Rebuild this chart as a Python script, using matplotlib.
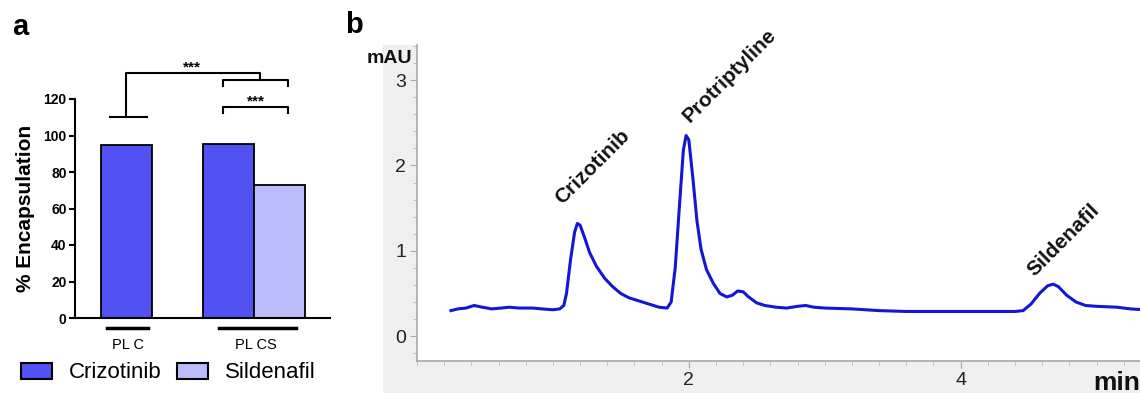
import matplotlib
matplotlib.use("Agg")
import matplotlib.pyplot as plt
from matplotlib.patches import Patch, Rectangle

plt.rcParams['font.family'] = ['Liberation Sans', 'DejaVu Sans']

# ---- panel a data ----
bar_pos = [0, 2, 3]
bar_vals = [95, 95.5, 73]
bar_drug = ['Crizotinib', 'Crizotinib', 'Sildenafil']
groups = ['PL C', 'PL CS']
drug_colors = {'Crizotinib': '#5252f2', 'Sildenafil': '#bcbcfa'}

# ---- panel b data (chromatogram) ----
time_min = [0.25, 0.30, 0.36, 0.42, 0.48, 0.55, 0.62, 0.68, 0.75, 0.85,
            0.92, 1.00, 1.05, 1.08, 1.10, 1.13, 1.16, 1.18, 1.20, 1.23,
            1.27, 1.32, 1.38, 1.44, 1.50, 1.56, 1.62, 1.70, 1.78, 1.84,
            1.87, 1.90, 1.93, 1.96, 1.98, 2.00, 2.03, 2.06, 2.09, 2.13,
            2.18, 2.23, 2.28, 2.32, 2.36, 2.40, 2.44, 2.50, 2.56, 2.64,
            2.72, 2.80, 2.86, 2.92, 3.00, 3.20, 3.40, 3.60, 4.00, 4.40,
            4.46, 4.52, 4.58, 4.64, 4.68, 4.72, 4.78, 4.85, 4.92, 5.00,
            5.15, 5.25, 5.35]
signal_mau = [0.30, 0.32, 0.33, 0.36, 0.34, 0.32, 0.33, 0.34, 0.33, 0.33,
              0.32, 0.31, 0.32, 0.36, 0.50, 0.90, 1.22, 1.32, 1.30, 1.17,
              0.98, 0.82, 0.68, 0.58, 0.50, 0.45, 0.42, 0.38, 0.34, 0.33,
              0.40, 0.80, 1.50, 2.18, 2.35, 2.30, 1.85, 1.35, 1.02, 0.78,
              0.62, 0.50, 0.46, 0.48, 0.53, 0.52, 0.46, 0.39, 0.36, 0.34,
              0.33, 0.35, 0.36, 0.34, 0.33, 0.32, 0.30, 0.29, 0.29, 0.29,
              0.30, 0.38, 0.50, 0.59, 0.61, 0.58, 0.48, 0.40, 0.36, 0.35,
              0.34, 0.32, 0.31]
peak_names = ['Crizotinib', 'Protriptyline', 'Sildenafil']
peak_t = [1.18, 1.98, 4.68]
peak_y = [1.33, 2.36, 0.61]
label_offset = [(-9, 11), (5, 6), (-11, 3)]  # points

W, H = 1140, 396
fig = plt.figure(figsize=(W / 100, H / 100), dpi=100)

# grey frame behind panel b
fig.patches.append(Rectangle((383 / W, 1 - 393 / H), (W - 383) / W, (393 - 45) / H,
                             transform=fig.transFigure, facecolor='#efefef',
                             edgecolor='none', zorder=-10))

# ================= panel a =================
ax = fig.add_axes([75 / W, (H - 318) / H, 255 / W, 219 / H])
for x, v, d in zip(bar_pos, bar_vals, bar_drug):
    ax.bar(x, v, width=1.0, color=drug_colors[d], edgecolor='black', linewidth=1.3)
ax.set_xlim(-1, 4)
ax.set_ylim(0, 120)
ax.set_yticks(range(0, 121, 20))
ax.set_xticks([])
for s in ['top', 'right']:
    ax.spines[s].set_visible(False)
ax.spines['left'].set_linewidth(1.5)
ax.spines['bottom'].set_linewidth(1.5)
ax.tick_params(axis='y', direction='out', length=4, width=1.5, labelsize=10, pad=2)
for lab in ax.get_yticklabels():
    lab.set_fontweight('bold')
ax.set_ylabel('% Encapsulation', fontsize=15, fontweight='bold', labelpad=6)

kw = dict(color='black', lw=1.5, clip_on=False)
# significance brackets
top_pl = 110
ax.plot([-0.32, 0.42], [top_pl, top_pl], **kw)
ax.plot([0, 0, 2.62, 2.62], [top_pl, 134.2, 134.2, 130.4], **kw)
x1, x2 = bar_pos[1] - 0.09, bar_pos[2] + 0.17
ax.plot([x1, x1, x2, x2], [127, 130.4, 130.4, 127], **kw)
ax.plot([x1, x1, x2, x2], [112.3, 115.6, 115.6, 112.3], **kw)
ax.text(1.3, 137.5, '***', ha='center', va='center', fontsize=11, fontweight='bold')
ax.text(2.54, 118.5, '***', ha='center', va='center', fontsize=11, fontweight='bold')

# group labels below the axis
ax.plot([-0.38, 0.44], [-5.5, -5.5], color='black', lw=2.5, clip_on=False)
ax.plot([1.83, 3.34], [-5.5, -5.5], color='black', lw=2.5, clip_on=False)
ax.text(0.03, -15, groups[0], ha='center', va='center', fontsize=10.5)
ax.text(2.55, -15, groups[1], ha='center', va='center', fontsize=10.5)

handles = [Patch(facecolor=drug_colors[d], edgecolor='black', linewidth=1.5)
           for d in ['Crizotinib', 'Sildenafil']]
fig.legend(handles, ['Crizotinib', 'Sildenafil'], loc='center left',
           bbox_to_anchor=(12 / W, 1 - 373 / H), ncol=2, frameon=False,
           fontsize=16, handlelength=1.4, handleheight=0.7,
           handletextpad=0.75, columnspacing=0.7, borderaxespad=0)

fig.text(12 / W, 1 - 35 / H, 'a', fontsize=21, fontweight='bold', va='baseline')

# ================= panel b =================
axb = fig.add_axes([417 / W, (H - 361) / H, (W - 417) / W, (361 - 45) / H])
axb.set_facecolor('white')
axb.plot(time_min, signal_mau, color='#1515d6', lw=2.2, solid_joinstyle='round')
axb.set_xlim(0, 5.32)
axb.set_ylim(-0.29, 3.41)
axb.set_xticks([2, 4])
axb.set_xticks([i * 0.2 for i in range(0, 27)], minor=True)
axb.set_yticks([0, 1, 2, 3])
axb.set_yticks([i * 0.2 for i in range(-1, 18)], minor=True)
for s in ['top', 'right']:
    axb.spines[s].set_visible(False)
for s in ['left', 'bottom']:
    axb.spines[s].set_color('#a8a8a8')
    axb.spines[s].set_linewidth(1.2)
axb.tick_params(which='major', direction='out', length=5, color='#a8a8a8',
                labelsize=14, labelcolor='#222222', pad=3)
axb.tick_params(which='minor', direction='out', length=3, color='#b8b8b8')

for name, t, y, off in zip(peak_names, peak_t, peak_y, label_offset):
    axb.annotate(name, xy=(t, y), xytext=off, textcoords='offset points',
                 rotation=45, rotation_mode='anchor', ha='left', va='bottom',
                 fontsize=15, fontweight='bold', color='#111111')

fig.text(412 / W, 1 - 63 / H, 'mAU', ha='right', va='baseline', fontsize=14,
         fontweight='bold', color='#111111')
fig.text(1093 / W, 1 - 390 / H, 'min', ha='left', va='baseline', fontsize=19,
         fontweight='bold', color='#111111')
fig.text(345 / W, 1 - 33 / H, 'b', fontsize=21, fontweight='bold', va='baseline')

fig.savefig('out.png', dpi=100)
